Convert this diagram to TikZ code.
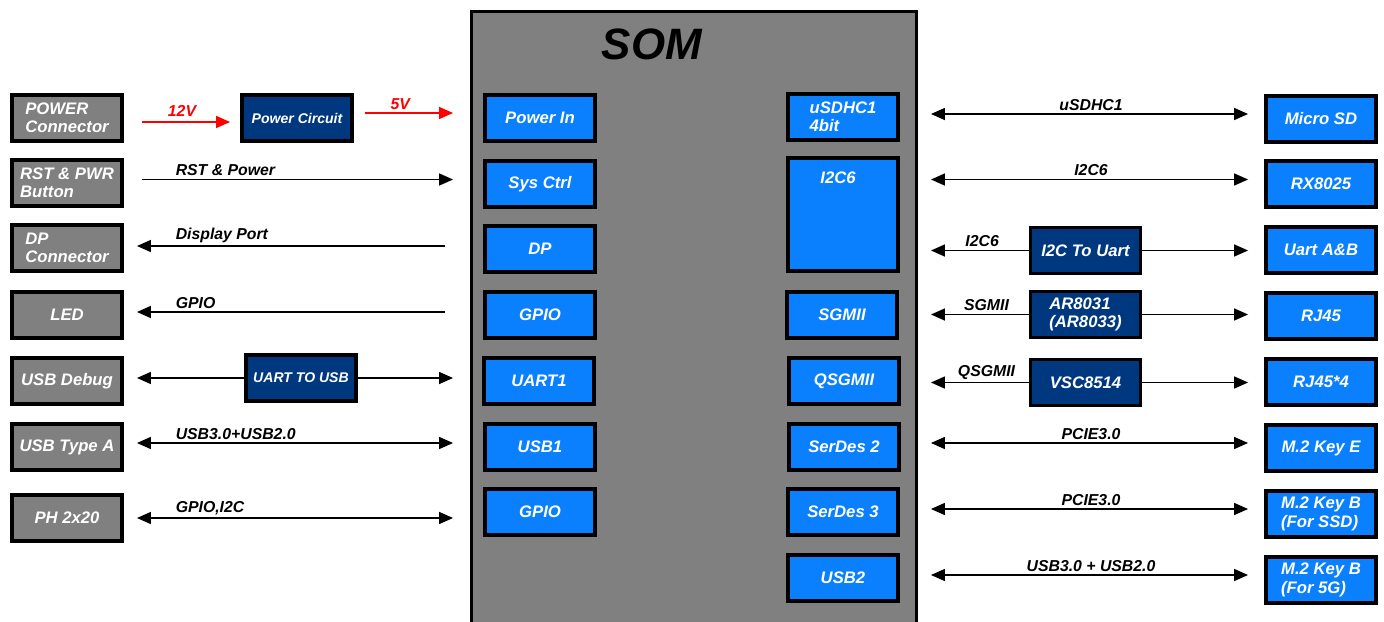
\documentclass[tikz,border=0pt]{standalone}
\usepackage{fontspec}
\setmainfont{Liberation Sans}
\usetikzlibrary{arrows.meta}

\definecolor{somgray}{RGB}{128,128,128}
\definecolor{ifblue}{RGB}{10,128,255}
\definecolor{chipblue}{RGB}{0,56,128}

\begin{document}
\begin{tikzpicture}
  [x=0.02cm, y=-0.02cm, >={Triangle[length=0.28cm, width=0.24cm]},
   every node/.style={text=white, inner sep=1pt, font=\bfseries\itshape\fontsize{9.5}{10.5}\selectfont},
   conn/.style={draw=black, line width=2.2pt, fill=somgray, minimum width=2.2cm, minimum height=0.92cm, align=left},
   port/.style={conn, fill=ifblue},
   chip/.style={conn, fill=chipblue},
   smallchip/.style={chip, font=\bfseries\itshape\fontsize{8}{9}\selectfont},
   lbl/.style={text=black, inner sep=1.5pt, font=\bfseries\itshape\fontsize{9}{10}\selectfont},
   sig/.style={line width=0.85pt},
   lside/.style={sig, shorten <=0.26cm, shorten >=0.34cm},
   rside/.style={sig, shorten <=0.26cm, shorten >=0.32cm}]
  \useasboundingbox (0,0) rectangle (1384,622);

  \node[draw=black, line width=1.7pt, fill=somgray, minimum width=8.9cm, minimum height=12.26cm] (som) at (694,318) {};
  \node[text=black, font=\bfseries\itshape\fontsize{25}{30}\selectfont] (somtitle) at (652,44) {SOM};

  \node[conn] (pwrcon) at (67,118) {POWER\\Connector};
  \node[conn] (rstbtn) at (67,183) {RST \& PWR\\Button};
  \node[conn] (dpcon) at (67,248) {DP\\Connector};
  \node[conn] (led) at (67,315) {LED};
  \node[conn] (usbdbg) at (67,381) {USB Debug};
  \node[conn] (usba) at (67,447) {USB Type A};
  \node[conn] (ph) at (67,518) {PH 2x20};

  \node[smallchip] (pwrcirc) at (297,118) {Power Circuit};
  \node[smallchip] (uartusb) at (301,378) {UART TO USB};

  \node[port] (pwrin) at (540,118) {Power In};
  \node[port] (sysctrl) at (540,184) {Sys Ctrl};
  \node[port] (dp) at (540,249) {DP};
  \node[port] (gpioa) at (540,315) {GPIO};
  \node[port] (uart) at (539,381) {UART1};
  \node[port] (usb1) at (540,447) {USB1};
  \node[port] (gpiob) at (540,512) {GPIO};

  \node[port] (usdhc) at (843,117) {uSDHC1\\4bit};
  \node[port, minimum height=2.26cm] (i2c) at (843,214.5) {};
  \node (i2ctext) at (838,178) {I2C6};
  \node[port] (sgmii) at (842,315) {SGMII};
  \node[port] (qsgmii) at (844,381) {QSGMII};
  \node[port] (serdesa) at (844,447) {SerDes 2};
  \node[port] (serdesb) at (843,512) {SerDes 3};
  \node[port] (usb2) at (843,578) {USB2};

  \node[chip] (i2cuart) at (1085.5,250.5) {I2C To Uart};
  \node[chip] (phy) at (1085.5,314.5) {AR8031\\(AR8033)};
  \node[chip] (qphy) at (1085.5,382.5) {VSC8514};

  \node[port] (microsd) at (1321,119) {Micro SD};
  \node[port] (rtc) at (1321,184) {RX8025};
  \node[port] (uartab) at (1321,250) {Uart A\&B};
  \node[port] (rj) at (1321,316) {RJ45};
  \node[port] (rjq) at (1321,382) {RJ45*4};
  \node[port] (m2e) at (1321,448) {M.2 Key E};
  \node[port] (m2ssd) at (1321,514) {M.2 Key B\\(For SSD)};
  \node[port] (m2g) at (1321,580) {M.2 Key B\\(For 5G)};

  \draw[sig, red, ->, shorten <=0.36cm, shorten >=0.2cm] ([yshift=-0.08cm]pwrcon.east) -- ([yshift=-0.08cm]pwrcon.east -| pwrcirc.west)
    node[lbl, text=red, midway, above=1pt] {12V};
  \draw[sig, red, ->, shorten <=0.22cm, shorten >=0.34cm] ([yshift=0.1cm]pwrcirc.east) -- ([yshift=0.1cm]pwrcirc.east -| som.west)
    node[lbl, text=red, pos=0.4, above] {5V};
  \draw[lside, ->, shorten <=0.36cm] ([yshift=0.07cm]rstbtn.east) -- ([yshift=0.07cm]rstbtn.east -| som.west)
    node[lbl, pos=0.14, above right] {RST \& Power};
  \draw[lside, <-, shorten >=0.5cm] ([yshift=0.04cm]dpcon.east) -- ([yshift=0.04cm]dpcon.east -| som.west)
    node[lbl, pos=0.14, above right] {Display Port};
  \draw[lside, <-, shorten >=0.5cm] ([yshift=0.06cm]led.east) -- ([yshift=0.06cm]led.east -| som.west)
    node[lbl, pos=0.14, above right] {GPIO};
  \draw[sig, ->, shorten >=0.26cm] (uartusb.west) -- (uartusb.west -| usbdbg.east);
  \draw[sig, ->, shorten >=0.34cm] (uartusb.east) -- (uartusb.east -| som.west);
  \draw[lside, <->] ([yshift=0.08cm]usba.east) -- ([yshift=0.08cm]usba.east -| som.west)
    node[lbl, pos=0.14, above right] {USB3.0+USB2.0};
  \draw[lside, <->] (ph.east) -- (ph.east -| som.west)
    node[lbl, pos=0.14, above right] {GPIO,I2C};

  \draw[rside, <->] ([yshift=0.1cm]microsd.west -| som.east) -- ([yshift=0.1cm]microsd.west)
    node[lbl, midway, above] {uSDHC1};
  \draw[rside, <->] ([yshift=0.09cm]rtc.west -| som.east) -- ([yshift=0.09cm]rtc.west)
    node[lbl, midway, above] {I2C6};
  \draw[sig, ->, shorten >=0.26cm] (i2cuart.west) -- (i2cuart.west -| som.east)
    node[lbl, pos=0.42, above] {I2C6};
  \draw[sig, ->, shorten >=0.32cm] (i2cuart.east) -- (i2cuart.east -| uartab.west);
  \draw[sig, ->, shorten >=0.26cm] (phy.west) -- (phy.west -| som.east)
    node[lbl, pos=0.38, above] {SGMII};
  \draw[sig, ->, shorten >=0.32cm] (phy.east) -- (phy.east -| rj.west);
  \draw[sig, ->, shorten >=0.26cm] (qphy.west) -- (qphy.west -| som.east)
    node[lbl, pos=0.38, above] {QSGMII};
  \draw[sig, ->, shorten >=0.32cm] (qphy.east) -- (qphy.east -| rjq.west);
  \draw[rside, <->] ([yshift=0.1cm]m2e.west -| som.east) -- ([yshift=0.1cm]m2e.west)
    node[lbl, midway, above] {PCIE3.0};
  \draw[rside, <->] ([yshift=0.1cm]m2ssd.west -| som.east) -- ([yshift=0.1cm]m2ssd.west)
    node[lbl, midway, above] {PCIE3.0};
  \draw[rside, <->] ([yshift=0.1cm]m2g.west -| som.east) -- ([yshift=0.1cm]m2g.west)
    node[lbl, midway, above] {USB3.0 + USB2.0};
\end{tikzpicture}
\end{document}
